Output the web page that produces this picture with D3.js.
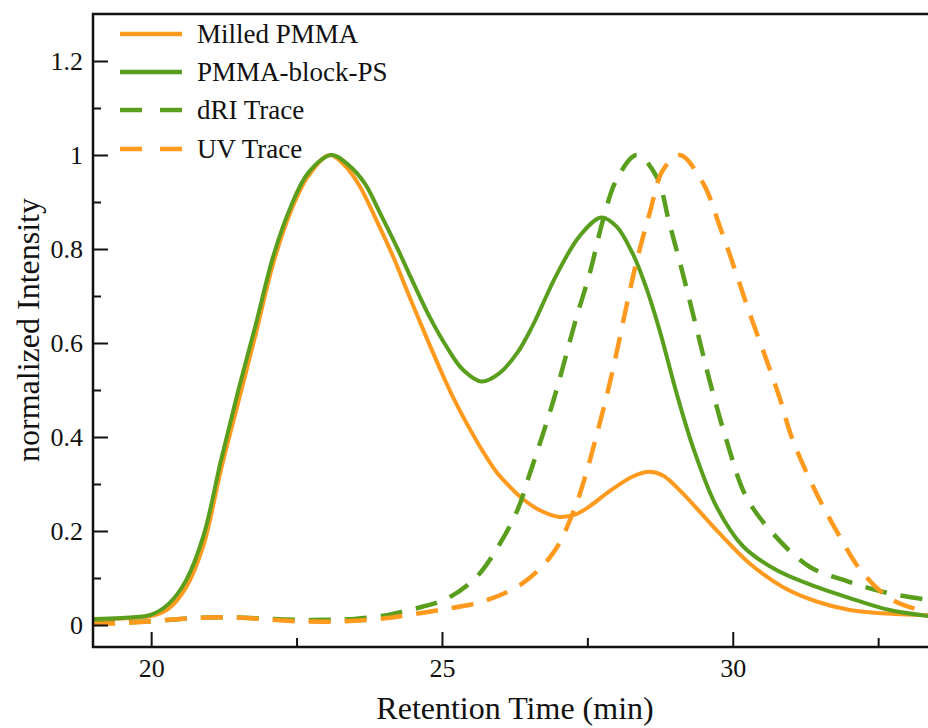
<!DOCTYPE html>
<html>
  <head>
    <meta charset="utf-8">
    <script src="https://d3js.org/d3.v7.min.js"></script>
    <title>GPC traces</title>
    <style>
      body { margin: 0px; background: #fff; }
      svg text { font-family: "Liberation Serif", "Times New Roman", serif; fill: #111; }
    </style>
  </head>
  <body>
    <svg width="928" height="728"></svg>
    <script>
      // [retention time (min), normalized intensity]
      const milledPMMA = [
        [19.0, 0.012], [19.5, 0.014], [20.0, 0.019], [20.3, 0.035], [20.6, 0.08],
        [20.9, 0.17], [21.2, 0.33], [21.5, 0.475], [21.8, 0.62], [22.1, 0.77],
        [22.4, 0.88], [22.7, 0.955], [23.07, 1.0], [23.35, 0.975], [23.58, 0.935],
        [23.87, 0.862], [24.16, 0.784], [24.44, 0.699], [24.73, 0.613], [25.02, 0.53],
        [25.2, 0.482], [25.42, 0.43], [25.7, 0.37], [25.94, 0.325], [26.2, 0.29],
        [26.39, 0.268], [26.7, 0.243], [27.02, 0.23], [27.31, 0.236], [27.6, 0.258],
        [27.83, 0.28], [28.28, 0.316], [28.57, 0.326], [28.8, 0.318], [29.14, 0.28],
        [29.72, 0.202], [30.29, 0.131], [30.86, 0.081], [31.44, 0.05], [32.01, 0.032],
        [32.58, 0.025], [33.5, 0.02]
      ];
      const pmmaBlockPS = [
        [19.0, 0.013], [19.5, 0.015], [20.0, 0.022], [20.3, 0.045], [20.6, 0.095],
        [20.9, 0.19], [21.2, 0.35], [21.5, 0.5], [21.8, 0.64], [22.1, 0.785],
        [22.4, 0.89], [22.7, 0.962], [23.1, 1.0], [23.4, 0.978], [23.67, 0.94],
        [23.93, 0.878], [24.22, 0.805], [24.5, 0.73], [24.79, 0.655], [25.08, 0.592],
        [25.36, 0.543], [25.68, 0.518], [25.99, 0.536], [26.3, 0.58], [26.56, 0.637],
        [26.97, 0.745], [27.37, 0.828], [27.74, 0.867], [28.0, 0.848], [28.28, 0.79],
        [28.5, 0.722], [28.74, 0.628], [29.03, 0.495], [29.32, 0.377], [29.72, 0.252],
        [30.18, 0.167], [30.75, 0.117], [31.44, 0.081], [32.12, 0.053], [32.7, 0.032],
        [33.5, 0.017]
      ];
      const driTrace = [
        [19.0, 0.003], [20.0, 0.008], [20.5, 0.013], [21.0, 0.016], [21.5, 0.016],
        [22.0, 0.013], [22.5, 0.011], [23.0, 0.011], [23.5, 0.013], [24.0, 0.02],
        [24.3, 0.028], [24.7, 0.04], [25.1, 0.057], [25.6, 0.103], [26.0, 0.174],
        [26.3, 0.245], [26.5, 0.318], [26.74, 0.408], [26.97, 0.5], [27.3, 0.649],
        [27.54, 0.748], [27.77, 0.862], [28.0, 0.947], [28.35, 1.0], [28.69, 0.954],
        [28.91, 0.855], [29.14, 0.748], [29.37, 0.635], [29.6, 0.521], [29.89, 0.394],
        [30.23, 0.273], [30.69, 0.195], [31.32, 0.124], [32.0, 0.092], [32.7, 0.067],
        [33.5, 0.051]
      ];
      const uvTrace = [
        [19.0, 0.002], [19.5, 0.004], [20.0, 0.008], [20.5, 0.013], [21.0, 0.016],
        [21.5, 0.016], [22.0, 0.012], [22.5, 0.008], [23.0, 0.007], [23.5, 0.009],
        [24.0, 0.014], [24.3, 0.019], [24.96, 0.032], [25.7, 0.05], [26.39, 0.089],
        [26.91, 0.153], [27.25, 0.238], [27.48, 0.323], [27.65, 0.4], [27.83, 0.486],
        [28.0, 0.578], [28.17, 0.677], [28.34, 0.77], [28.57, 0.876], [28.8, 0.968],
        [29.09, 1.0], [29.49, 0.94], [29.78, 0.847], [30.06, 0.748], [30.29, 0.663],
        [30.58, 0.564], [30.81, 0.482], [31.03, 0.394], [31.44, 0.28], [31.84, 0.188],
        [32.24, 0.11], [32.75, 0.053], [33.5, 0.022]
      ];

      const seriesNames = ['Milled PMMA', 'PMMA-block-PS', 'dRI Trace', 'UV Trace'];
      const seriesData = [milledPMMA, pmmaBlockPS, driTrace, uvTrace];
      const orange = '#ff9a1f';
      const green = '#5a9e1e';
      const seriesColors = [orange, green, green, orange];
      const seriesDashed = [false, false, true, true];

      const xMajorTicks = [20, 25, 30];
      const xMinorTicks = [22.5, 27.5, 32.5];
      const yMajorTicks = [0, 0.2, 0.4, 0.6, 0.8, 1, 1.2];
      const yMinorTicks = [0.1, 0.3, 0.5, 0.7, 0.9, 1.1];

      const svg = d3.select('svg');
      const plotLeft = 93, plotTop = 14, plotBottom = 647;
      const serif = '"Liberation Serif", "Times New Roman", serif';

      const x = d3.scaleLinear().domain([19, 34]).range([plotLeft, plotLeft + 15 * 58.16]);
      const y = d3.scaleLinear().domain([0, 1.2]).range([625, 61]);

      svg.append('clipPath').attr('id', 'plot-clip')
        .append('rect')
          .attr('x', plotLeft).attr('y', plotTop)
          .attr('width', x(34) - plotLeft).attr('height', plotBottom - plotTop);

      const line = d3.line()
        .x(d => x(d[0]))
        .y(d => y(d[1]))
        .curve(d3.curveCatmullRom.alpha(0.5));

      const linesG = svg.append('g').attr('clip-path', 'url(#plot-clip)');
      seriesData.forEach((data, i) => {
        linesG.append('path')
          .datum(data)
          .attr('d', line)
          .attr('fill', 'none')
          .attr('stroke', seriesColors[i])
          .attr('stroke-width', seriesDashed[i] ? 4.5 : 4)
          .attr('stroke-dasharray', seriesDashed[i] ? '22,14' : null);
      });

      // axes: ticks point inward
      const xAxis = svg.append('g')
          .attr('transform', `translate(0,${plotBottom})`)
          .call(d3.axisBottom(x).tickValues(xMajorTicks).tickSize(-15).tickPadding(30).tickFormat(d3.format('d')));
      svg.append('g')
          .attr('transform', `translate(0,${plotBottom})`)
          .call(d3.axisBottom(x).tickValues(xMinorTicks).tickSize(-9).tickFormat(''));

      const yAxis = svg.append('g')
          .attr('transform', `translate(${plotLeft},0)`)
          .call(d3.axisLeft(y).tickValues(yMajorTicks).tickSize(-15).tickPadding(10).tickFormat(d => d3.format('~g')(d)));
      svg.append('g')
          .attr('transform', `translate(${plotLeft},0)`)
          .call(d3.axisLeft(y).tickValues(yMinorTicks).tickSize(-8).tickFormat(''));

      svg.selectAll('.domain').remove();
      svg.selectAll('.tick line').attr('stroke', '#111').attr('stroke-width', 2);
      svg.selectAll('.tick text')
        .attr('font-family', serif)
        .style('font-family', serif)
        .style('font-size', '26px')
        .attr('fill', '#111');
      xAxis.selectAll('.tick text').attr('dy', '0');
      yAxis.selectAll('.tick text').attr('dy', '0.34em');

      // frame (left, top, bottom; right edge falls outside the window)
      svg.append('path')
        .attr('d', `M${x(34)},${plotTop}H${plotLeft}V${plotBottom}H${x(34)}`)
        .attr('fill', 'none')
        .attr('stroke', '#111')
        .attr('stroke-width', 2.5);

      svg.append('text')
        .attr('x', 515).attr('y', 719)
        .attr('text-anchor', 'middle')
        .style('font-size', '32px')
        .text('Retention Time (min)');

      svg.append('text')
        .attr('transform', 'translate(39,330) rotate(-90)')
        .attr('text-anchor', 'middle')
        .style('font-size', '32px')
        .text('normalized Intensity');

      const legendG = svg.append('g');
      const legendRows = [34, 72, 110, 149];
      seriesNames.forEach((name, i) => {
        const row = legendG.append('g').attr('transform', `translate(120,${legendRows[i]})`);
        row.append('line')
          .attr('x1', 0).attr('x2', 62)
          .attr('stroke', seriesColors[i])
          .attr('stroke-width', 4.5)
          .attr('stroke-dasharray', seriesDashed[i] ? '22,18' : null);
        row.append('text')
          .attr('x', 77).attr('dy', '0.34em')
          .style('font-size', '27px')
          .text(name);
      });
    </script>
  </body>
</html>
